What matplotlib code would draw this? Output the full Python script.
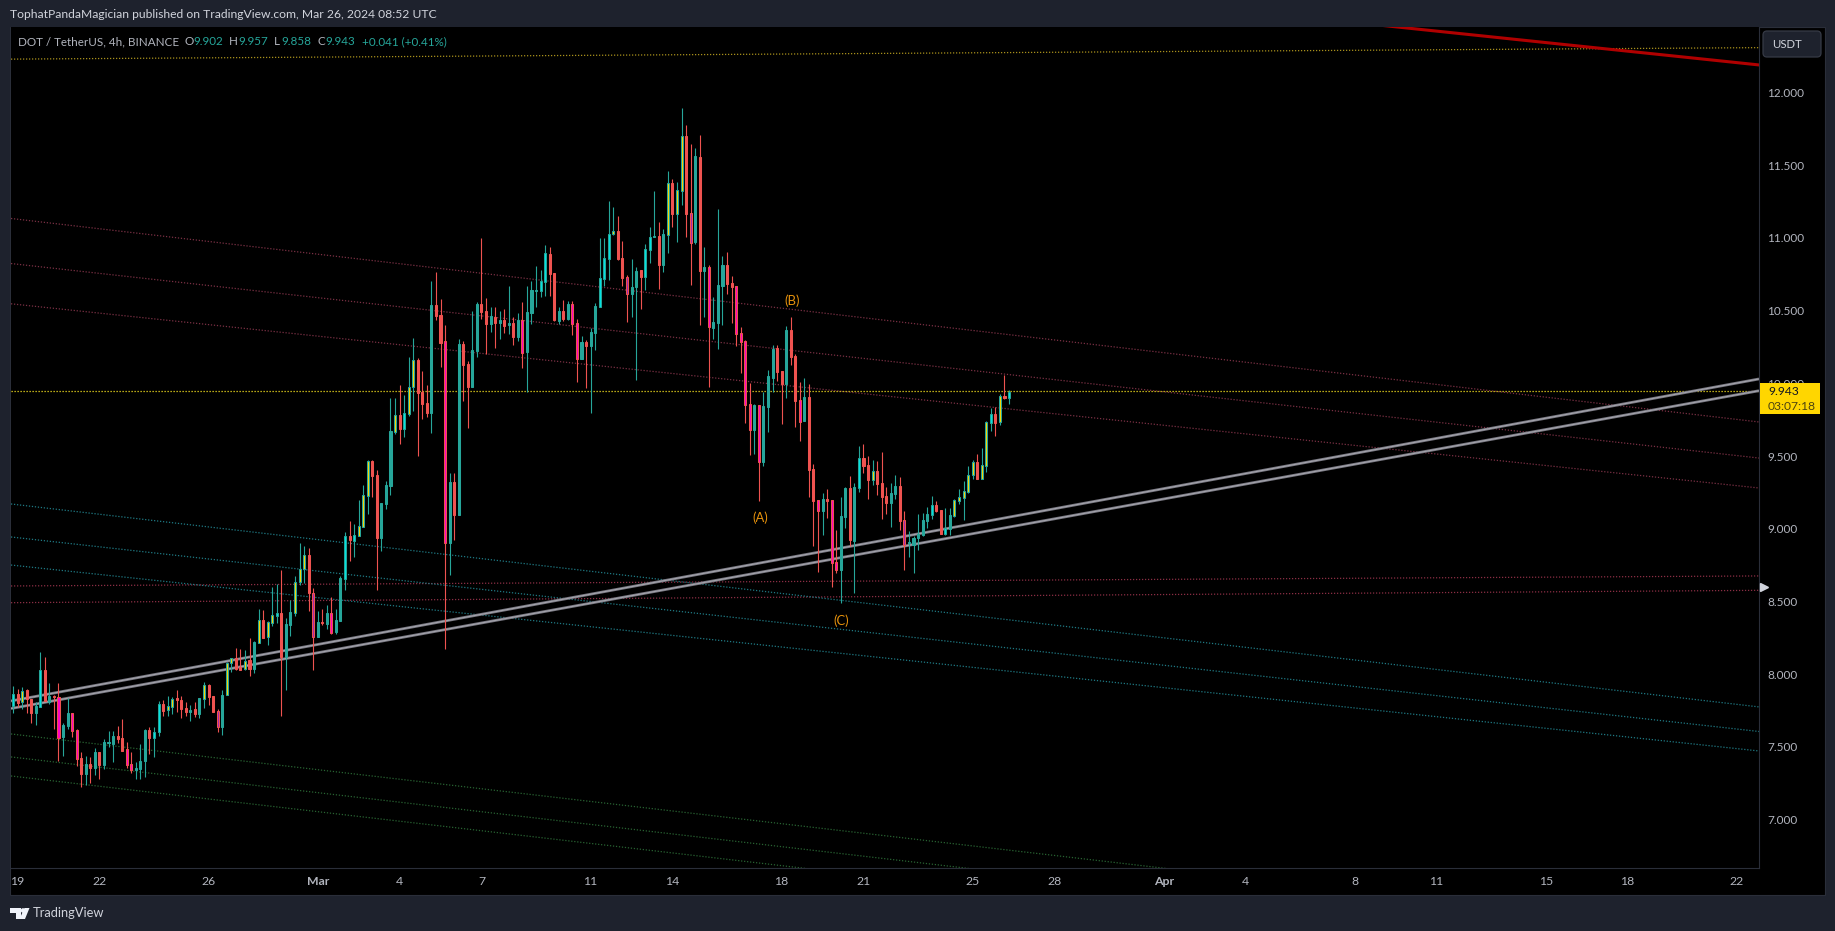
import numpy as np
import matplotlib
matplotlib.use("Agg")
import matplotlib.pyplot as plt
from matplotlib.patches import Rectangle, FancyBboxPatch, Polygon, Circle
from matplotlib.transforms import IdentityTransform

highs = [
7.918,7.895,7.909,7.895,7.826,7.805,8.149,8.115,7.936,7.856,
7.936,7.661,7.833,7.730,7.620,7.466,7.436,7.427,7.489,7.466,
7.551,7.606,7.606,7.643,7.689,7.530,7.464,7.395,7.519,7.624,
7.633,7.638,7.812,7.819,7.847,7.844,7.888,7.847,7.810,7.787,
7.808,7.833,7.948,7.932,7.849,7.757,7.888,8.081,8.113,8.177,
8.172,8.165,8.246,8.225,8.445,8.440,8.363,8.596,8.619,8.716,
8.385,8.507,8.672,8.899,8.881,8.865,8.589,8.434,8.447,8.473,
8.528,8.445,8.674,8.975,9.051,9.032,9.197,9.298,9.472,9.472,
9.401,9.179,9.328,9.897,9.897,9.986,9.917,10.178,10.309,10.172,
10.082,9.986,10.703,10.765,10.577,10.399,9.381,9.381,10.302,10.289,
10.153,10.495,10.557,10.997,10.584,10.527,10.522,10.495,10.511,10.669,
10.454,10.481,10.557,10.669,10.703,10.806,10.779,10.951,10.937,10.760,
10.524,10.572,10.566,10.566,10.442,10.323,10.297,10.380,10.550,10.999,
10.999,11.253,11.212,11.150,10.978,10.744,10.854,10.799,10.779,10.958,
11.075,11.322,11.109,11.061,11.460,11.405,11.384,11.893,11.776,11.645,
11.618,11.707,10.937,10.813,10.593,11.198,10.875,10.903,10.738,10.669,
10.387,10.298,10.005,9.858,9.851,9.943,10.092,10.264,10.264,10.085,
10.395,10.457,10.202,10.009,10.037,9.996,9.446,9.198,9.244,9.274,
9.198,8.992,9.221,9.287,9.363,9.315,9.569,9.583,9.501,9.473,
9.466,9.528,9.287,9.315,9.370,9.356,9.122,8.985,8.950,9.102,
9.109,9.150,9.225,9.191,9.129,9.143,9.143,9.205,9.274,9.329,
9.432,9.473,9.514,9.556,9.741,9.828,9.838,9.927,10.058,9.957]

body_tops = [
7.860,7.860,7.886,7.890,7.826,7.780,8.026,8.026,7.849,7.847,
7.840,7.647,7.730,7.730,7.613,7.420,7.379,7.379,7.464,7.464,
7.533,7.533,7.572,7.572,7.558,7.482,7.379,7.354,7.400,7.615,
7.615,7.599,7.792,7.792,7.778,7.826,7.828,7.821,7.764,7.755,
7.757,7.833,7.922,7.925,7.849,7.744,7.854,8.074,8.108,8.108,
8.046,8.092,8.097,8.218,8.369,8.369,8.356,8.404,8.418,8.418,
8.342,8.424,8.635,8.725,8.816,8.816,8.560,8.356,8.358,8.418,
8.418,8.369,8.658,8.950,8.950,8.957,9.016,9.229,9.463,9.466,
9.367,9.174,9.298,9.670,9.780,9.782,9.793,9.972,10.158,10.160,
9.940,9.864,10.538,10.538,10.470,10.289,9.321,9.321,10.268,10.268,
10.133,10.227,10.545,10.545,10.495,10.460,10.456,10.435,10.435,10.415,
10.415,10.435,10.435,10.490,10.641,10.641,10.703,10.893,10.889,10.758,
10.497,10.497,10.545,10.545,10.414,10.284,10.284,10.352,10.531,10.724,
10.861,11.026,11.047,11.047,10.861,10.731,10.662,10.772,10.779,10.923,
11.006,11.013,11.013,11.026,11.377,11.377,11.329,11.700,11.700,11.171,
11.563,11.556,10.799,10.799,10.421,10.676,10.813,10.813,10.689,10.669,
10.346,10.291,9.856,9.851,9.849,9.844,10.051,10.236,10.243,10.085,
10.367,10.367,10.188,9.886,9.906,9.906,9.411,9.198,9.205,9.205,
9.198,8.772,9.088,9.280,9.280,9.287,9.487,9.487,9.439,9.397,
9.397,9.315,9.225,9.246,9.294,9.294,9.060,8.909,8.937,8.964,
9.060,9.102,9.164,9.164,9.129,9.005,9.095,9.198,9.219,9.260,
9.370,9.459,9.459,9.439,9.734,9.789,9.789,9.913,9.913,9.943]

body_bottoms = [
7.783,7.803,7.808,7.826,7.734,7.734,7.776,7.815,7.808,7.842,
7.562,7.567,7.643,7.611,7.418,7.315,7.315,7.354,7.356,7.377,
7.377,7.526,7.519,7.551,7.473,7.374,7.342,7.342,7.347,7.404,
7.562,7.562,7.599,7.746,7.750,7.776,7.824,7.762,7.739,7.741,
7.727,7.727,7.831,7.844,7.741,7.638,7.638,7.854,8.074,8.037,
8.030,8.032,8.035,8.037,8.216,8.248,8.252,8.353,8.401,8.120,
8.115,8.337,8.422,8.635,8.725,8.560,8.257,8.257,8.351,8.344,
8.285,8.291,8.367,8.656,8.922,8.918,8.952,9.014,9.227,9.365,
8.936,8.936,9.172,9.296,9.665,9.686,9.686,9.791,9.972,9.935,
9.858,9.796,9.796,10.463,10.277,8.904,8.904,9.094,9.094,10.128,
9.974,9.974,10.224,10.490,10.408,10.408,10.417,10.417,10.394,10.401,
10.318,10.318,10.211,10.215,10.483,10.634,10.637,10.699,10.751,10.433,
10.428,10.442,10.442,10.407,10.167,10.167,10.256,10.256,10.346,10.524,
10.717,10.854,11.026,10.854,10.724,10.614,10.614,10.662,10.731,10.731,
10.916,11.006,10.813,10.813,11.020,11.164,11.164,11.322,11.164,10.965,
10.971,10.772,10.772,10.387,10.380,10.414,10.669,10.683,10.662,10.339,
10.284,9.851,9.679,9.679,9.462,9.462,9.840,10.039,10.078,9.996,
9.996,10.181,9.879,9.734,9.741,9.404,9.191,9.122,9.122,9.191,
8.765,8.717,8.717,9.081,8.923,8.916,9.280,9.432,9.335,9.335,
9.308,9.219,9.177,9.177,9.239,9.054,8.888,8.902,8.888,8.937,
8.957,9.054,9.095,9.122,8.964,8.964,8.999,9.088,9.191,9.212,
9.253,9.370,9.342,9.342,9.432,9.728,9.728,9.734,9.899,9.902]

lows = [
7.730,7.776,7.757,7.730,7.666,7.652,7.776,7.812,7.794,7.624,
7.404,7.439,7.620,7.569,7.370,7.225,7.235,7.253,7.308,7.280,
7.347,7.496,7.397,7.523,7.468,7.352,7.322,7.280,7.276,7.294,
7.452,7.432,7.576,7.714,7.714,7.727,7.739,7.700,7.711,7.679,
7.702,7.700,7.766,7.789,7.739,7.604,7.583,7.854,8.016,8.028,
8.028,8.028,7.989,8.005,8.211,8.248,8.202,8.333,8.349,7.711,
7.893,8.264,8.401,8.615,8.628,8.434,8.028,8.255,8.335,8.310,
8.278,8.275,8.367,8.578,8.780,8.808,8.952,9.012,9.103,9.218,
8.578,8.849,9.138,9.232,9.651,9.582,9.631,9.777,9.809,9.500,
9.754,9.770,9.658,10.435,10.112,8.175,8.681,8.922,9.094,9.878,
9.692,9.974,10.181,10.442,10.204,10.355,10.243,10.305,10.346,10.339,
10.263,10.293,10.105,9.942,10.407,10.522,10.593,10.602,10.600,10.430,
10.407,10.428,10.435,10.332,10.009,10.167,9.967,9.798,10.229,10.524,
10.669,10.710,11.020,10.848,10.669,10.421,10.456,10.022,10.511,10.641,
10.827,11.006,10.648,10.765,10.896,11.075,10.971,11.226,11.006,10.676,
10.958,10.401,10.456,9.974,10.304,10.236,10.401,10.614,10.414,10.256,
10.070,9.725,9.507,9.514,9.191,9.432,9.666,9.941,10.016,9.721,
9.899,10.126,9.700,9.604,9.741,9.219,8.882,8.703,8.957,9.074,
8.600,8.696,8.492,9.005,8.882,8.558,9.253,9.384,9.205,9.301,
9.232,9.067,9.102,9.012,9.205,8.992,8.717,8.806,8.696,8.854,
8.950,9.005,9.067,9.115,8.964,8.957,8.957,9.081,9.170,9.060,
9.244,9.342,9.342,9.342,9.391,9.673,9.638,9.714,9.893,9.858]

# u plain up, d plain down, c cyan up, y yellow up, m magenta down, p purple down
candle_kinds = ("cdydducdud" "muummdudud" "uuuddmmuuu" "dccdyydddu" "duyddpuyyd"
                "dyduydyycd" "uuyyydpudu" "muucdcyyyd" "duuuydcyyd" "dduddmudud"
                "duuddududu" "dumuuuccdd" "udummuduuc" "ccyddpuudc" "cuduydyydp"
                "udumuuuddm" "mmmumuuudd" "uddmuddmud" "mmuuducddy" "ddduudpuuu"
                "uucddcuyyy" "yydyycdydc")

price_ticks = [7.0, 7.5, 8.0, 8.5, 9.0, 9.5, 10.0, 10.5, 11.0, 11.5, 12.0]
time_tick_bars = [1, 19, 43, 67, 85, 103, 127, 145, 169, 187, 211, 229, 253, 271, 295, 313, 337, 355, 379]
time_tick_labels = ["19", "22", "26", "Mar", "4", "7", "11", "14", "18", "21", "25", "28",
                    "Apr", "4", "8", "11", "15", "18", "22"]

X_LEFT, X_RIGHT = -0.44, 383.9
Y_BOTTOM, Y_TOP = 6.666, 12.451

maroon_starts = [11.134, 10.824, 10.547]
maroon_ends = [9.734, 9.486, 9.280]
flat_red_starts = [8.606, 8.491]
flat_red_ends = [8.675, 8.576]
teal_starts = [9.170, 8.943, 8.750]
teal_ends = [7.774, 7.605, 7.471]
green_starts = [7.588, 7.430, 7.299]
green_ends = [6.188, 6.030, 5.900]
silver_starts = [7.815, 7.763]
silver_ends = [10.030, 9.949]
gold_start, gold_end = 12.230, 12.309
last_price = 9.945
red_line_bars = [291.9, 383.9]
red_line_prices = [12.492, 12.190]

wave_labels = ["(A)", "(B)", "(C)"]
wave_bars = [164.2, 171.4, 182.2]
wave_prices = [9.072, 10.568, 8.370]

BG = "#1e222d"
BORDER = "#2a2e39"
TEXT = "#b2b5be"
UP = "#26a69a"
DOWN = "#ef5350"
FILLS = {"c": "#00e5e5", "y": "#ffd600", "m": "#ff00c8", "p": "#9c27b0", "u": UP, "d": DOWN}
FONT = "Lato"
plt.rcParams["font.family"] = FONT

W, H = 1835, 931
fig = plt.figure(figsize=(W / 100, H / 100), dpi=100, facecolor=BG)


def px_rect(x0, y0, x1, y1, **kw):
    r = Rectangle((x0, H - y1), x1 - x0, y1 - y0, transform=IdentityTransform(), **kw)
    fig.add_artist(r)
    return r


def ftext(x, y, s, **kw):
    kw.setdefault("va", "center")
    kw.setdefault("ha", "left")
    return fig.text(x / W, 1 - y / H, s, **kw)


px_rect(10, 27, 1825, 895, facecolor="black", edgecolor=BORDER, linewidth=0.8, zorder=-5)

ax = fig.add_axes([11 / W, 1 - 868 / H, (1759 - 11) / W, (868 - 27) / H])
ax.set_facecolor("black")
ax.set_xlim(X_LEFT, X_RIGHT)
ax.set_ylim(Y_BOTTOM, Y_TOP)
for s in ax.spines.values():
    s.set_visible(False)
for side in ("right", "bottom"):
    ax.spines[side].set_visible(True)
    ax.spines[side].set_color(BORDER)
    ax.spines[side].set_linewidth(0.8)
ax.yaxis.tick_right()
ax.set_yticks(price_ticks)
ax.set_yticklabels([f"{p:.3f}" for p in price_ticks])
ax.set_xticks(time_tick_bars)
ax.set_xticklabels(time_tick_labels)
ax.tick_params(axis="y", length=0, pad=6, labelsize=8.5, labelcolor=TEXT)
ax.tick_params(axis="x", length=0, pad=6, labelsize=8.8, labelcolor=TEXT)
for lab in ax.get_xticklabels():
    if lab.get_text() in ("Mar", "Apr"):
        lab.set_fontweight("bold")

DOT = (0, (1, 1.4))
DLW = 0.9
edges = [X_LEFT, X_RIGHT]
for a, b in zip(maroon_starts, maroon_ends):
    ax.plot(edges, [a, b], color="#7a3044", lw=DLW, ls=DOT, zorder=1)
for a, b in zip(flat_red_starts, flat_red_ends):
    ax.plot(edges, [a, b], color="#8a2e44", lw=DLW, ls=DOT, zorder=1)
for a, b in zip(teal_starts, teal_ends):
    ax.plot(edges, [a, b], color="#1f7a84", lw=DLW, ls=DOT, zorder=1)
for a, b in zip(green_starts, green_ends):
    ax.plot(edges, [a, b], color="#286332", lw=DLW, ls=DOT, zorder=1)
ax.plot(edges, [gold_start, gold_end], color="#a8901c", lw=DLW, ls=DOT, zorder=1)
ax.plot(edges, [last_price, last_price], color="#f0dc1e", lw=DLW, ls=DOT, zorder=1)
for a, b in zip(silver_starts, silver_ends):
    ax.plot(edges, [a, b], color="#76757f", lw=2.0, zorder=2, solid_capstyle="butt")
    ax.plot(edges, [a, b], color="#a4a4ac", lw=0.8, zorder=2, solid_capstyle="butt")
ax.plot(red_line_bars, red_line_prices, color="#b00000", lw=2.2, zorder=2)

bars = np.arange(len(highs))
highs_a, lows_a = np.array(highs), np.array(lows)
tops, bots = np.array(body_tops), np.array(body_bottoms)
kinds = list(candle_kinds)
is_up = np.array([k in "ucy" for k in kinds])
border = np.where(is_up, UP, DOWN)
ax.vlines(bars, lows_a, highs_a, colors=border, lw=0.8, zorder=3)
ax.bar(bars, np.maximum(tops - bots, 0.008), bottom=bots, width=0.45,
       color=[FILLS[k] for k in kinds], edgecolor=border, linewidth=0.75, zorder=4)

for s, b, p in zip(wave_labels, wave_bars, wave_prices):
    ax.text(b, p, s, color="#e8930c", fontsize=9.4, ha="center", va="center", zorder=5)

ax.plot([X_RIGHT + 1.1], [8.6], marker=">", ms=6, color="#d1d4dc", clip_on=False, zorder=6, ls="none")

# header
ftext(10, 14.5, "TophatPandaMagician published on TradingView.com, Mar 26, 2024 08:52 UTC",
      color="#d1d4dc", fontsize=8.75)
LEG = 8.4
ftext(18, 41.5, "DOT / TetherUS, 4h, BINANCE", color=TEXT, fontsize=LEG)
for x, s in [(184, "O"), (229, "H"), (274, "L"), (317, "C")]:
    ftext(x, 41.5, s, color=TEXT, fontsize=LEG)
for x, s in [(193, "9.902"), (238, "9.957"), (281, "9.858"), (325, "9.943"), (362, "+0.041 (+0.41%)")]:
    ftext(x, 41.5, s, color=UP, fontsize=LEG)

# USDT button
btn = FancyBboxPatch((1766, H - 54), 52, 20, boxstyle="round,pad=3,rounding_size=4",
                     transform=IdentityTransform(), facecolor=BG, edgecolor="#363a45", linewidth=0.9, zorder=4)
fig.add_artist(btn)
ftext(1772, 44.5, "USDT", color="#d1d4dc", fontsize=8.2, zorder=5)

# price tag
px_rect(1760, 383, 1820, 414, facecolor="#ffd600", edgecolor="none", zorder=4)
ftext(1768, 391.5, "9.943", color="#131722", fontsize=8.7, zorder=5)
ftext(1768, 406, "03:07:18", color="#4d4410", fontsize=8.7, zorder=5)

# footer logo
logo = "#f0f3fa"
for pts in ([(10, 908), (21, 908), (21, 919), (16, 919), (16, 913), (10, 913)],
            [(24.5, 908), (29.5, 908), (25, 919), (19.5, 919)]):
    fig.add_artist(Polygon([(x, H - y) for x, y in pts], closed=True, transform=IdentityTransform(),
                           facecolor=logo, edgecolor="none", zorder=4))
fig.add_artist(Circle((23.0, H - 910.5), 2.3, transform=IdentityTransform(), facecolor=logo, edgecolor="none", zorder=4))
ftext(33, 913, "TradingView", color="#d1d4dc", fontsize=9.3)

fig.savefig("out.png", dpi=100, facecolor=BG)
